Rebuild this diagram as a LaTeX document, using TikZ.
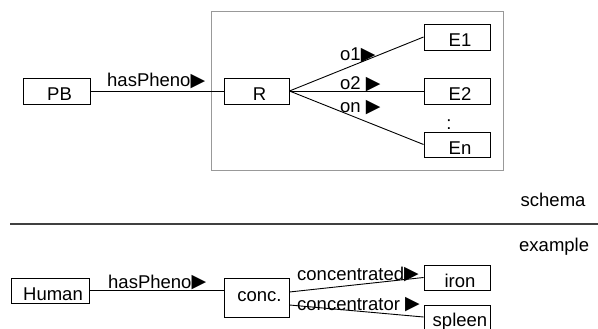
\documentclass[tikz,border=0pt]{standalone}
\usepackage{fontspec}
\setmainfont{Liberation Sans}
\newfontfamily\symfont{DejaVu Sans}
\newcommand{\roletri}{\raisebox{0.5pt}{\symfont\fontsize{19}{19}\selectfont ▶}}
\tikzset{
  entity/.style={draw, line width=0.9pt, rectangle, inner sep=0pt,
    minimum width=66pt, minimum height=26pt,
    text height=20pt, text depth=0pt, execute at begin node={\hspace{6pt}}},
  rolelabel/.style={inner sep=0pt, anchor=base west},
  link/.style={line width=0.9pt},
}
\begin{document}
\begin{tikzpicture}[x=1pt, y=-1pt, font=\fontsize{18.5}{22}\selectfont]
\useasboundingbox (0,0) rectangle (598,329);

% Drawing schema frame
\draw [gray!80, line width=1pt] (211,12) rectangle (503,170);

% Marking schema boxes
\draw (56.5,91) node (pb) [entity, minimum width=67pt] {PB};
\draw (256.5,91) node (r) [entity, minimum width=65pt] {R};
\draw (457,37) node (e1) [entity] {E1};
\draw (457,91) node (e2) [entity] {E2};
\draw (457,144.5) node (en) [entity, minimum height=25pt] {En};
\draw (449,125) node (dots) {:};

% Drawing schema links
\draw [link] (pb.east) -- (r.west);
\draw [link] (r.east) -- (e1.west);
\draw [link] (r.east) -- (e2.west);
\draw [link] (r.east) -- (en.west);

% Marking schema roles
\draw (107,87) node (haspheno) [rolelabel] {hasPheno\roletri};
\draw (340,61) node (o1) [rolelabel] {o1\roletri};
\draw (340,90) node (o2) [rolelabel] {o2 \roletri};
\draw (340,113) node (on) [rolelabel] {on \roletri};

% Drawing separator
\draw [black!75, line width=1.5pt] (10,224) -- (598,224);
\draw (520.5,206.5) node (schema) [rolelabel] {schema};
\draw (519,251) node (example) [rolelabel] {example};

% Marking example boxes
\draw (50,290.5) node (human) [entity, minimum width=78pt, minimum height=25pt] {Human};
\draw (256.5,297.5) node (conc) [entity, minimum width=65pt, minimum height=39pt, text height=8.4pt] {conc.};
\draw (457,277.5) node (iron) [entity, minimum height=25pt] {iron};
\draw (457,317) node (spleen) [entity, minimum height=24pt, text height=18.5pt] {spleen};

% Drawing example links
\draw [link] (human.east) -- (human.east -| conc.west);
\draw [link] ([yshift=5.5pt]conc.east) -- (iron.west);
\draw [link] ([yshift=-7.5pt]conc.east) -- (spleen.west);

% Marking example roles
\draw (108,288) node (haspheno2) [rolelabel] {hasPheno\roletri};
\draw (297,280) node (concd) [rolelabel] {concentrated\roletri};
\draw (297,310) node (concr) [rolelabel] {concentrator \roletri};
\end{tikzpicture}
\end{document}
